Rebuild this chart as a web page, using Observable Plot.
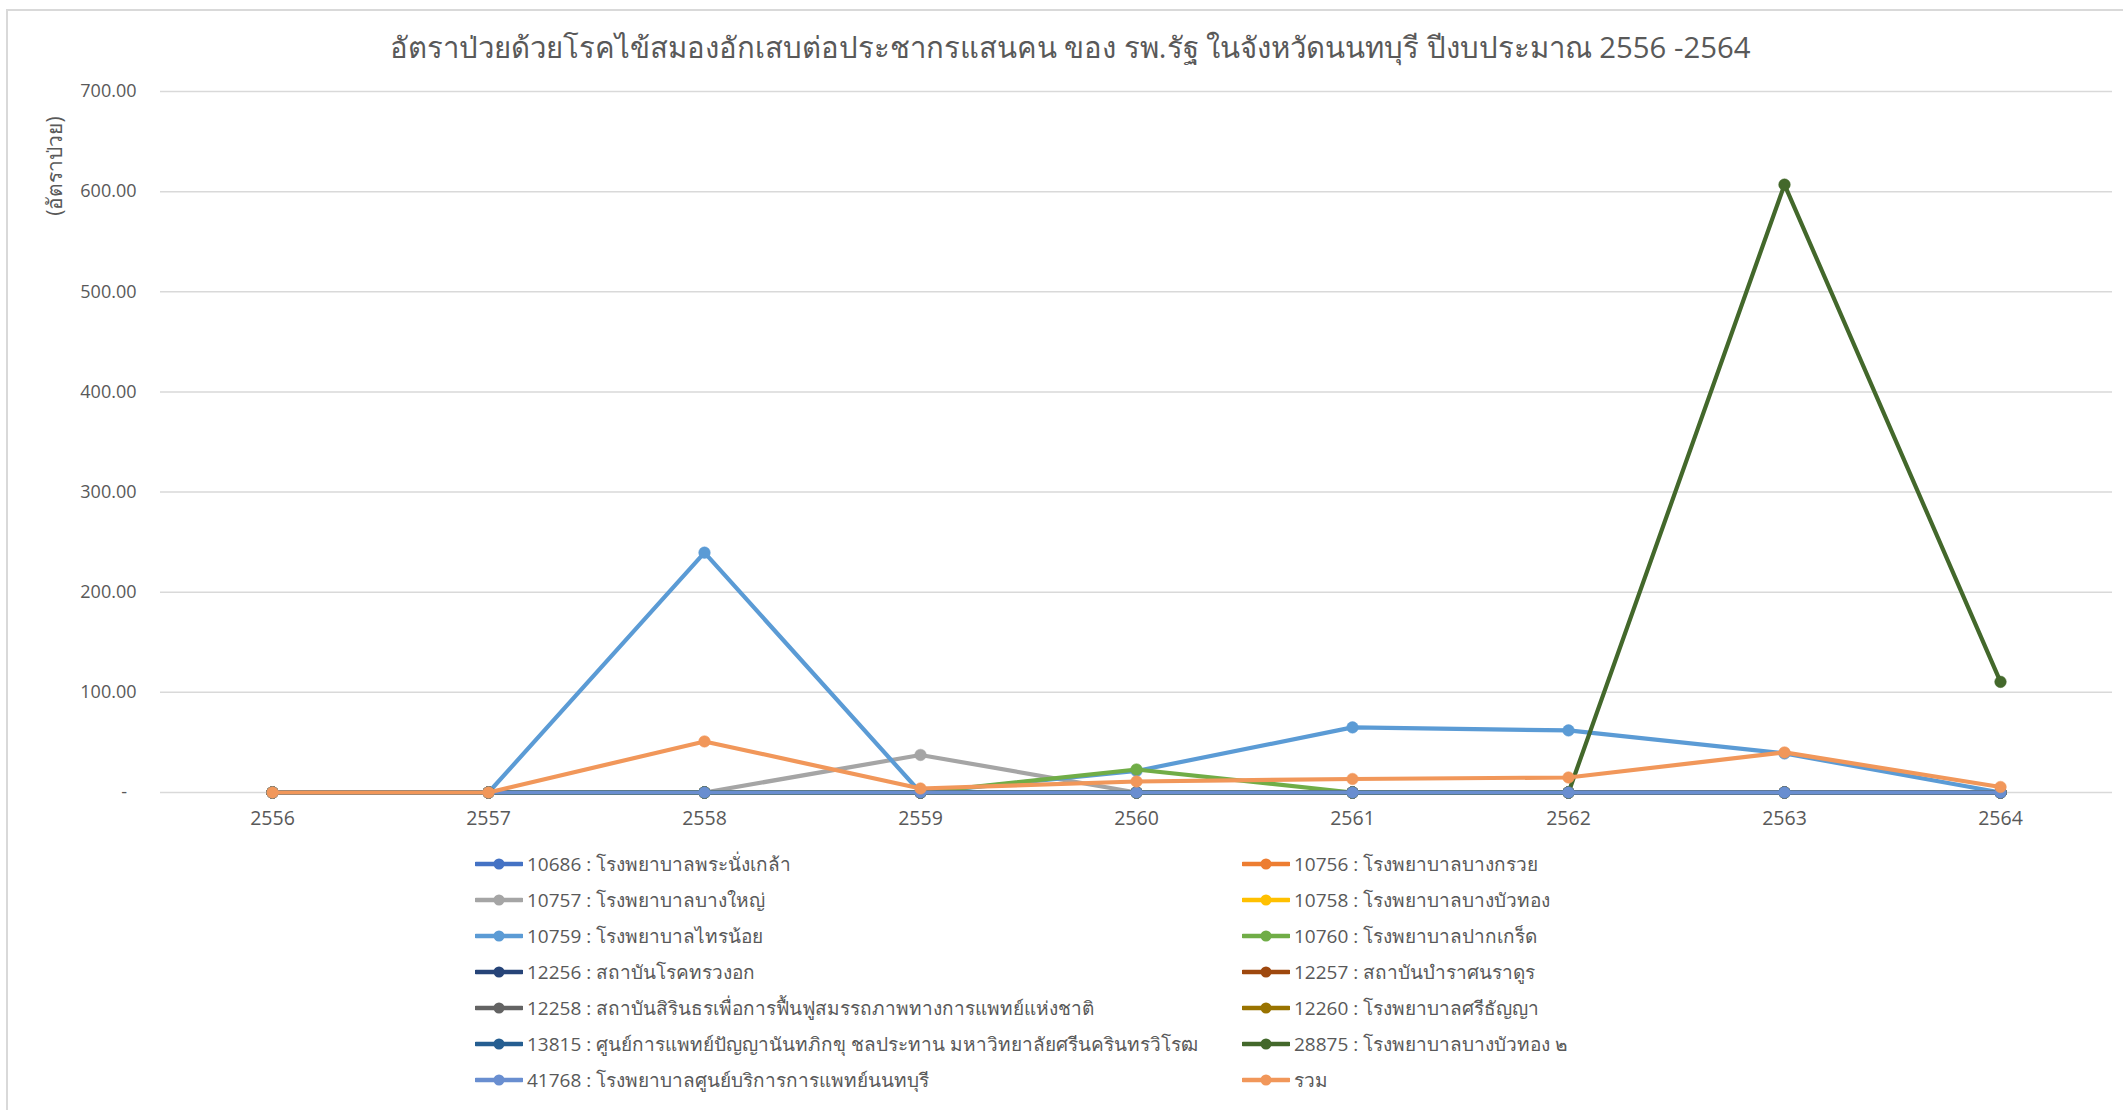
<!DOCTYPE html>
<html>
<head>
<meta charset="utf-8">
<script src="https://cdn.jsdelivr.net/npm/d3@7"></script>
<script src="https://cdn.jsdelivr.net/npm/@observablehq/plot@0.6"></script>
<style>
  html, body { margin: 0; padding: 0; background: #fff; }
  body { width: 2123px; height: 1110px; position: relative; overflow: hidden;
         font-family: "Open Sans", "Noto Sans", sans-serif; color: #595959; }
  #frame { position: absolute; left: 6px; top: 9px; width: 2200px; height: 1200px;
           border-left: 2px solid #d9d9d9; border-top: 2px solid #d9d9d9; }
  #title { position: absolute; left: 0; width: 2140px; top: 27px; text-align: center;
           font-size: 29.3px; line-height: 40px; color: #595959; }
  #ylabel { position: absolute; left: 54px; top: 166px; transform: translate(-50%,-50%) rotate(-90deg);
            font-size: 21px; white-space: nowrap; color: #595959; }
  #chart { position: absolute; left: 0; top: 0; }
  #legend { position: absolute; left: 0; top: 0; }
  .item { position: absolute; display: flex; align-items: center; height: 30px; font-size: 19px;
          white-space: nowrap; color: #595959; }
  .item svg { margin-right: 4px; }
</style>
</head>
<body>
<div id="frame"></div>
<div id="chart"></div>
<div id="title"></div>
<div id="ylabel"></div>
<div id="legend"></div>
<script>
// ---- data ----
const titleText = "อัตราป่วยด้วยโรคไข้สมองอักเสบต่อประชากรแสนคน ของ รพ.รัฐ ในจังหวัดนนทบุรี ปีงบประมาณ 2556 -2564";
const yLabelText = "(อัตราป่วย)";
const years = ["2556", "2557", "2558", "2559", "2560", "2561", "2562", "2563", "2564"];
const yTicks = [0, 100, 200, 300, 400, 500, 600, 700];

const seriesNames = [
  "10686 : โรงพยาบาลพระนั่งเกล้า",
  "10756 : โรงพยาบาลบางกรวย",
  "10757 : โรงพยาบาลบางใหญ่",
  "10758 : โรงพยาบาลบางบัวทอง",
  "10759 : โรงพยาบาลไทรน้อย",
  "10760 : โรงพยาบาลปากเกร็ด",
  "12256 : สถาบันโรคทรวงอก",
  "12257 : สถาบันบำราศนราดูร",
  "12258 : สถาบันสิรินธรเพื่อการฟื้นฟูสมรรถภาพทางการแพทย์แห่งชาติ",
  "12260 : โรงพยาบาลศรีธัญญา",
  "13815 : ศูนย์การแพทย์ปัญญานันทภิกขุ ชลประทาน มหาวิทยาลัยศรีนครินทรวิโรฒ",
  "28875 : โรงพยาบาลบางบัวทอง ๒",
  "41768 : โรงพยาบาลศูนย์บริการการแพทย์นนทบุรี",
  "รวม"
];
const seriesColors = ["#4472C4", "#ED7D31", "#A5A5A5", "#FFC000", "#5B9BD5", "#70AD47",
  "#264478", "#9E480E", "#636363", "#997300", "#255E91", "#43682B", "#698ED0", "#F1975A"];

const v10686 = [0, 0, 0, 0, 0, 0, 0, 0, 0];
const v10756 = [0, 0, 0, 0, 0, 0, 0, 0, 0];
const v10757 = [0, 0, 0, 37.5, 0, 0, 0, 0, 0];
const v10758 = [0, 0, 0, 0, 0, 0, 0, 0, 0];
const v10759 = [0, 0, 239.5, 0, 21.5, 65.0, 62.0, 39.0, 0];
const v10760 = [0, 0, 0, 0, 23.0, 0, 0, 0, 0];
const v12256 = [0, 0, 0, 0, 0, 0, 0, 0, 0];
const v12257 = [0, 0, 0, 0, 0, 0, 0, 0, 0];
const v12258 = [0, 0, 0, 0, 0, 0, 0, 0, 0];
const v12260 = [0, 0, 0, 0, 0, 0, 0, 0, 0];
const v13815 = [0, 0, 0, 0, 0, 0, 0, 0, 0];
const v28875 = [0, 0, 0, 0, 0, 0, 0, 607.0, 110.5];
const v41768 = [0, 0, 0, 0, 0, 0, 0, 0, 0];
const vTotal = [0, 0, 51.0, 4.0, 11.0, 13.5, 15.0, 40.0, 5.5];

const seriesValues = [v10686, v10756, v10757, v10758, v10759, v10760, v12256, v12257,
  v12258, v12260, v13815, v28875, v41768, vTotal];

// ---- build ----
document.getElementById("title").textContent = titleText;
document.getElementById("ylabel").textContent = yLabelText;

const marks = [
  Plot.ruleY(yTicks, {stroke: "#d9d9d9", strokeWidth: 1.5}),
  Plot.axisY(yTicks, {tickSize: 0, tickPadding: 24, fontSize: 18, fill: "#595959", label: null,
    tickFormat: d => d === 0 ? "-\u00a0\u00a0" : d.toFixed(2)}),
  Plot.axisX({tickSize: 0, tickPadding: 19, fontSize: 19.5, fill: "#595959", label: null})
];
seriesValues.forEach((vals, i) => {
  const rows = years.map((y, j) => ({year: y, value: vals[j]}));
  marks.push(Plot.line(rows, {x: "year", y: "value", stroke: seriesColors[i], strokeWidth: 4.2,
    strokeLinejoin: "round", strokeLinecap: "round"}));
  marks.push(Plot.dot(rows, {x: "year", y: "value", r: 5.8, fill: seriesColors[i], stroke: seriesColors[i], strokeWidth: 0.5}));
});

const chart = Plot.plot({
  width: 2123,
  height: 850,
  marginLeft: 160,
  marginRight: 11,
  marginTop: 91,
  marginBottom: 58,
  style: {fontFamily: "'Open Sans', 'Noto Sans', sans-serif", background: "transparent", overflow: "visible"},
  x: {type: "point", domain: years, padding: 0.5},
  y: {domain: [0, 700]},
  marks
});
document.getElementById("chart").appendChild(chart);

// ---- legend ----
const legend = document.getElementById("legend");
const colX = [475, 1242];
const rowY0 = 864, rowStep = 36;
seriesNames.forEach((name, i) => {
  const col = i % 2, row = Math.floor(i / 2);
  const div = document.createElement("div");
  div.className = "item";
  div.style.left = colX[col] + "px";
  div.style.top = (rowY0 + row * rowStep - 15) + "px";
  const c = seriesColors[i];
  div.innerHTML = `<svg width="48" height="16"><line x1="1" y1="8" x2="47" y2="8" stroke="${c}" stroke-width="4.5" stroke-linecap="round"/><circle cx="24" cy="8" r="5.5" fill="${c}"/></svg><span></span>`;
  div.querySelector("span").textContent = name;
  legend.appendChild(div);
});
</script>
</body>
</html>
